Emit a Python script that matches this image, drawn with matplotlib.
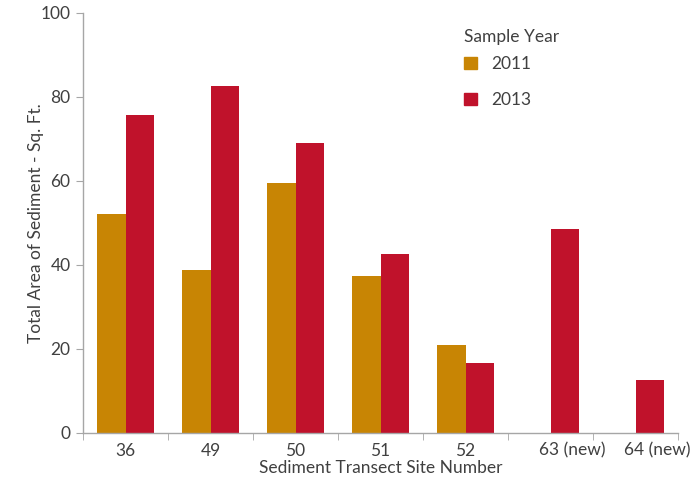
import numpy as np
import matplotlib.pyplot as plt
from matplotlib.patches import Patch
from matplotlib.transforms import ScaledTranslation

plt.rcParams['font.family'] = ['Lato', 'DejaVu Sans']

sites = ['36', '49', '50', '51', '52', '63 (new)', '64 (new)']
area_2011 = [52.1, 38.8, 59.4, 37.3, 20.9, np.nan, np.nan]
area_2013 = [75.6, 82.7, 69.1, 42.7, 16.7, 48.6, 12.5]

c2011 = '#C88504'
c2013 = '#C0122B'
grey = '#A6A6A6'
txt = '#404040'

fig = plt.figure(figsize=(7, 4.8), dpi=100)
ax = fig.add_axes([0.1186, 0.098, 0.85, 0.875])

x = np.arange(len(sites))
w = 0.335
h11 = np.array(area_2011, dtype=float)
ok = ~np.isnan(h11)
ax.bar(x[ok] - w / 2, h11[ok], width=w, color=c2011, edgecolor='none')
ax.bar(x + w / 2, area_2013, width=w, color=c2013, edgecolor='none')

ax.set_xlim(-0.5, len(sites) - 0.5)
ax.set_ylim(0, 100)
ax.set_yticks(range(0, 101, 20))
ax.set_xticks(x)
ax.set_xticklabels(sites)
ax.set_xticks(np.arange(-0.5, len(sites)), minor=True)
ax.tick_params(axis='x', which='major', length=0, pad=7, labelsize=12.5, labelcolor=txt)
ax.tick_params(axis='x', which='minor', length=5, color=grey, direction='out')
ax.tick_params(axis='y', length=5, color=grey, labelsize=12.5, labelcolor=txt, pad=4)

# keep the site number of the "(new)" labels under the group centre
shift = ScaledTranslation(0.22, 0, fig.dpi_scale_trans)
for lbl in ax.get_xticklabels():
    if '(new)' in lbl.get_text():
        lbl.set_transform(lbl.get_transform() + shift)

for s in ['top', 'right']:
    ax.spines[s].set_visible(False)
for s in ['left', 'bottom']:
    ax.spines[s].set_color(grey)
    ax.spines[s].set_linewidth(1.0)

ax.set_xlabel('Sediment Transect Site Number', fontsize=12.5, color=txt, labelpad=1)
ax.set_ylabel('Total Area of Sediment - Sq. Ft.', fontsize=12.5, color=txt, labelpad=-2.5)

handles = [Patch(color=c2011, label='2011'), Patch(color=c2013, label='2013')]
leg = fig.legend(handles=handles, title='Sample Year', loc='upper left',
                 bbox_to_anchor=(0.651, 0.958), frameon=False, fontsize=12.5,
                 title_fontsize=12.5, handlelength=0.75, handleheight=0.75,
                 handletextpad=0.8, labelspacing=1.15, borderpad=0,
                 alignment='left')
leg._legend_box.sep = 8
leg.get_title().set_color(txt)
for t in leg.get_texts():
    t.set_color(txt)

fig.savefig('out.png', dpi=100)
